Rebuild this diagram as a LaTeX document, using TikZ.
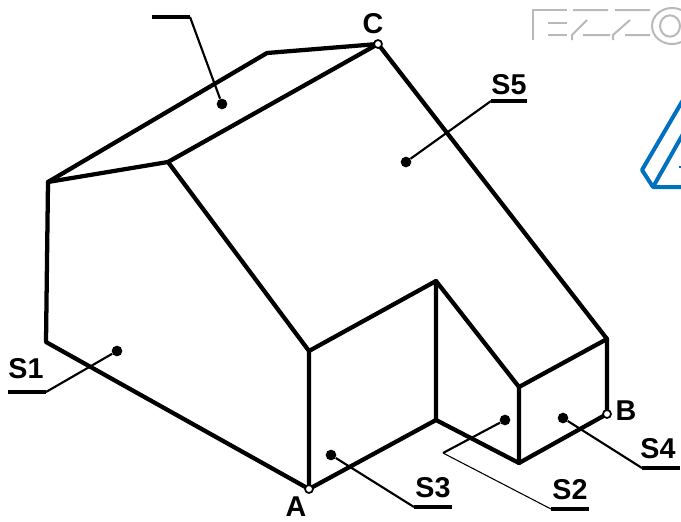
\documentclass[tikz,border=0pt]{standalone}
\usepackage{fontspec}
\setmainfont{Liberation Sans}
\tikzset{
  edge/.style={line width=3.2pt,line cap=round,line join=round,black},
  leader/.style={line width=1.6pt,black},
  thinleader/.style={line width=0.8pt,black},
  shelf/.style={line width=3.4pt,black},
  dotm/.style={circle,fill=black,inner sep=0pt,minimum size=8pt},
  pin/.style={circle,draw=black,fill=white,line width=1.3pt,inner sep=0pt,minimum size=6pt},
  lab/.style={font=\bfseries\fontsize{21.5pt}{24pt}\selectfont,inner sep=0pt,text=black},
  wm/.style={line width=1.5pt,gray!55},
  blueline/.style={line width=3pt,color={rgb,255:red,0;green,112;blue,192},line join=round}
}
\begin{document}
\begin{tikzpicture}[x=0.75pt,y=-0.75pt]
\useasboundingbox (0,0) rectangle (681,521);
% vertices
\coordinate (P1) at (46,342);
\coordinate (P2) at (48,182);
\coordinate (P3) at (267,53);
\coordinate (P4) at (168,162);
\coordinate (P5) at (309,351);
\coordinate (P6) at (436,281);
\coordinate (P7) at (436,420);
\coordinate (P8) at (519,387);
\coordinate (P9) at (519,463);
\coordinate (P10) at (607,339);
% watermark
\draw[wm] (567,10) -- (533,10) -- (533,40) (548,23) -- (567,23) (548,35) -- (567,35);
\draw[wm] (573,10) -- (608,10) (587,20) -- (572,35) -- (572,40) (583,35) -- (610,35);
\draw[wm] (615,10) -- (650,10) (630,20) -- (613,35) -- (613,40) (625,35) -- (650,35);
\draw[wm] (672,26) ellipse (15pt and 13.5pt);
\draw[wm] (670,26) ellipse (7.5pt and 8pt);
% blue fragment
\draw[blueline] (683,100) -- (642,170) -- (653,187) -- (683,187);
\draw[blueline] (683,134) -- (653,187);
\draw[blueline,line width=0.8pt] (679,167) -- (682,167);
% solid
\draw[edge] (P1) -- (P2) -- (P3) -- (378,44) -- (P10) -- (607,414) -- (P9) -- (P7) -- (309,489) -- cycle;
\draw[edge] (P2) -- (P4) -- (378,44);
\draw[edge] (P4) -- (P5) -- (309,489);
\draw[edge] (P5) -- (P6) -- (P7);
\draw[edge] (P6) -- (P8) -- (P9);
\draw[edge] (P8) -- (P10);
% pins
\node[pin] (A) at (309,489) {};
\node[pin] (B) at (607,414) {};
\node[pin] (C) at (378,44) {};
% dots
\node[dotm] (d1) at (117,351) {};
\node[dotm] (d2) at (505,420) {};
\node[dotm] (d3) at (331,455) {};
\node[dotm] (d4) at (563,418) {};
\node[dotm] (d5) at (406,162) {};
\node[dotm] (d6) at (222,104) {};
% leaders
\coordinate (e1) at (46,392);
\coordinate (e2) at (443,453);
\coordinate (e2b) at (551,509);
\coordinate (e3) at (414,507);
\coordinate (e4) at (642,468);
\coordinate (e5) at (491,101);
\coordinate (e6) at (190,17);
\draw[leader] (d1) -- (e1);
\draw[shelf] (e1) -- (8,392);
\draw[leader] (d2) -- (e2);
\draw[thinleader] (e2) -- (e2b);
\draw[shelf] (e2b) -- (589,509);
\draw[leader] (d3) -- (e3);
\draw[shelf] (e3) -- (452,507);
\draw[leader] (d4) -- (e4);
\draw[shelf] (e4) -- (680,468);
\draw[leader] (d5) -- (e5);
\draw[shelf] (e5) -- (527,101);
\draw[leader] (d6) -- (e6);
\draw[shelf] (e6) -- (152,17);
% labels
\node[lab] (lS1) at (26,369) {S1};
\node[lab] (lS2) at (570,490) {S2};
\node[lab] (lS3) at (433,488) {S3};
\node[lab] (lS4) at (658,449) {S4};
\node[lab] (lS5) at (509,85) {S5};
\node[lab] (lA) at (296,507) {A};
\node[lab] (lB) at (626,411) {B};
\node[lab] (lC) at (373,24) {C};
\end{tikzpicture}
\end{document}
